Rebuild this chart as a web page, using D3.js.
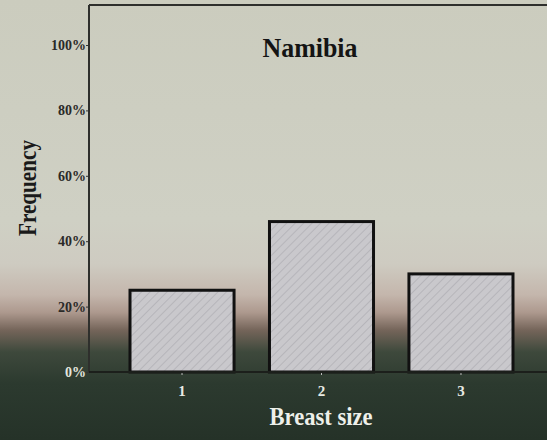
<!DOCTYPE html>
<html>
<head>
<meta charset="utf-8">
<script src="https://cdn.jsdelivr.net/npm/d3@7"></script>
<style>
  html, body { margin: 0; padding: 0; background: #263329; }
  svg { display: block; }
</style>
</head>
<body>
<div id="chart"></div>
<script>
// Data
const categories = ["1", "2", "3"];
const frequencies = [25, 46, 30];
const yTicks = [0, 20, 40, 60, 80, 100];
const title = "Namibia";

const W = 547, H = 440;
const margin = { top: 5, left: 89, bottom: 68 };

const svg = d3.select("#chart")
    .append("svg")
    .attr("width", W)
    .attr("height", H);

const defs = svg.append("defs");

// Background gradient (light at top, dark green at bottom)
const grad = defs.append("linearGradient")
    .attr("id", "bg")
    .attr("x1", 0).attr("y1", 0).attr("x2", 0).attr("y2", 1);
[
    [0, "#cbccbe"], [0.5, "#cfd0c4"], [0.6, "#cecbc1"], [0.67, "#c4b6ac"],
    [0.71, "#ad998e"], [0.75, "#75655a"], [0.80, "#3e493c"], [0.87, "#2c3a2f"],
    [1, "#253228"]
].forEach(s => grad.append("stop").attr("offset", s[0]).attr("stop-color", s[1]));

// Hatched bar pattern
const pat = defs.append("pattern")
    .attr("id", "hatch")
    .attr("patternUnits", "userSpaceOnUse")
    .attr("width", 6).attr("height", 6)
    .attr("patternTransform", "rotate(45)");
pat.append("rect").attr("width", 6).attr("height", 6).attr("fill", "#c9c8cc");
pat.append("line").attr("x1", 0).attr("y1", 0).attr("x2", 0).attr("y2", 6)
    .attr("stroke", "#b6b5ba").attr("stroke-width", 2);

svg.append("rect")
    .attr("width", W).attr("height", H)
    .attr("fill", "url(#bg)");

// Scales
const x = d3.scaleBand()
    .domain(categories)
    .range([margin.left, 554])
    .paddingInner(0.254)
    .paddingOuter(0.294);

const y = d3.scaleLinear()
    .domain([0, 100])
    .range([H - margin.bottom, 45]);

const serif = "'Liberation Serif', 'DejaVu Serif', serif";

// Top frame line
svg.append("line")
    .attr("x1", margin.left).attr("x2", W)
    .attr("y1", margin.top).attr("y2", margin.top)
    .attr("stroke", "#2e2f2c").attr("stroke-width", 2);

// Bars
svg.selectAll(".bar")
    .data(frequencies)
    .enter()
    .append("rect")
    .attr("class", "bar")
    .attr("x", (d, i) => x(categories[i]))
    .attr("y", d => y(d))
    .attr("width", x.bandwidth())
    .attr("height", d => y(0) - y(d))
    .attr("fill", "url(#hatch)")
    .attr("stroke", "#111")
    .attr("stroke-width", 3);

// Y axis
const yAxis = svg.append("g")
    .attr("transform", `translate(${margin.left},0)`)
    .call(d3.axisLeft(y).tickValues(yTicks).tickSize(3).tickFormat(d => d + "%"));
yAxis.select(".domain").remove();
yAxis.selectAll(".tick line").attr("stroke", "#333");
yAxis.selectAll("text")
    .attr("font-family", serif)
    .attr("font-weight", "bold")
    .attr("font-size", 14)
    .attr("x", -3)
    .attr("fill", d => d === 0 ? "#e4e6df" : "#2a2a28");

svg.append("line")
    .attr("x1", margin.left).attr("x2", margin.left)
    .attr("y1", margin.top).attr("y2", y(0))
    .attr("stroke", "#2e2f2c").attr("stroke-width", 2);

// X axis
const xAxis = svg.append("g")
    .attr("transform", `translate(0,${y(0)})`)
    .call(d3.axisBottom(x).tickSize(3).tickSizeOuter(0));
xAxis.select(".domain").remove();
xAxis.selectAll(".tick line").attr("stroke", "#bbb");
xAxis.selectAll("text")
    .attr("font-family", serif)
    .attr("font-weight", "bold")
    .attr("font-size", 15)
    .attr("dy", "1.2em")
    .attr("fill", "#e8ebe4");

svg.append("line")
    .attr("x1", margin.left).attr("x2", W)
    .attr("y1", y(0)).attr("y2", y(0))
    .attr("stroke", "#1c1f1b").attr("stroke-width", 2);

// Title
svg.append("text")
    .attr("x", 310)
    .attr("y", 57)
    .attr("text-anchor", "middle")
    .attr("font-family", serif)
    .attr("font-weight", "bold")
    .attr("font-size", 28)
    .attr("textLength", 95)
    .attr("lengthAdjust", "spacingAndGlyphs")
    .attr("fill", "#141414")
    .text(title);

// X axis label
svg.append("text")
    .attr("x", 321)
    .attr("y", 425)
    .attr("text-anchor", "middle")
    .attr("font-family", serif)
    .attr("font-weight", "bold")
    .attr("font-size", 25)
    .attr("textLength", 103)
    .attr("lengthAdjust", "spacingAndGlyphs")
    .attr("fill", "#eef0ea")
    .text("Breast size");

// Y axis label
svg.append("text")
    .attr("transform", "translate(36,188) rotate(-90)")
    .attr("text-anchor", "middle")
    .attr("font-family", serif)
    .attr("font-weight", "bold")
    .attr("font-size", 25)
    .attr("textLength", 96)
    .attr("lengthAdjust", "spacingAndGlyphs")
    .attr("fill", "#1a1a1a")
    .text("Frequency");
</script>
</body>
</html>
